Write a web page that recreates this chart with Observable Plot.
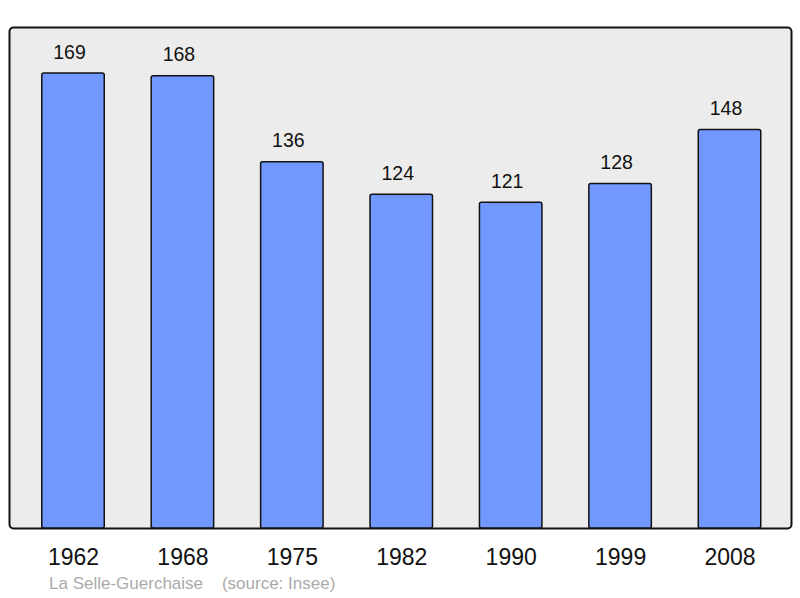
<!DOCTYPE html>
<html><head><meta charset="utf-8">
<script src="https://cdn.jsdelivr.net/npm/d3@7"></script>
<script src="https://cdn.jsdelivr.net/npm/@observablehq/plot@0.6"></script>
<style>
body{margin:0;background:#fff;font-family:"Liberation Sans",Arial,sans-serif;}
#caption{font-size:17px;color:#aaaaaa;padding-left:49px;height:28px;line-height:28px;margin-top:0;white-space:pre;}
</style></head>
<body>
<div id="chart"></div>
<div id="caption"></div>
<script>
const years = ["1962","1968","1975","1982","1990","1999","2008"];
const population = [169,168,136,124,121,128,148];
const captionText = "La Selle-Guerchaise    (source: Insee)";

const data = years.map((y,i)=>({year:y, value:population[i]}));

const chart = Plot.plot({
  width: 800,
  height: 570,
  marginTop: 27,
  marginBottom: 42,
  marginLeft: 9,
  marginRight: 9,
  style: {fontFamily: '"Liberation Sans", Arial, sans-serif', background: "white"},
  x: {type: "band", domain: years, paddingInner: 0.429, paddingOuter: 0.288, align: 0.52, round: false, label: null},
  y: {domain: [0, 186.1], axis: null},
  marks: [
    Plot.frame({fill: "#ececec", stroke: "#111", strokeWidth: 2, rx: 4}),
    Plot.barY(data, {x: "year", y: "value", fill: "#7098ff", stroke: "#111", strokeWidth: 1.5, rx: 2}),
    Plot.text(data, {x: "year", y: "value", text: d => String(d.value), lineAnchor: "bottom", dx: -4, dy: -15, fontSize: 19.5, fill: "#111"}),
    Plot.axisX({tickSize: 0, tickPadding: 20, fontSize: 23, color: "#111", label: null})
  ]
});
document.getElementById("chart").appendChild(chart);
document.getElementById("caption").textContent = captionText;
</script>
</body></html>
